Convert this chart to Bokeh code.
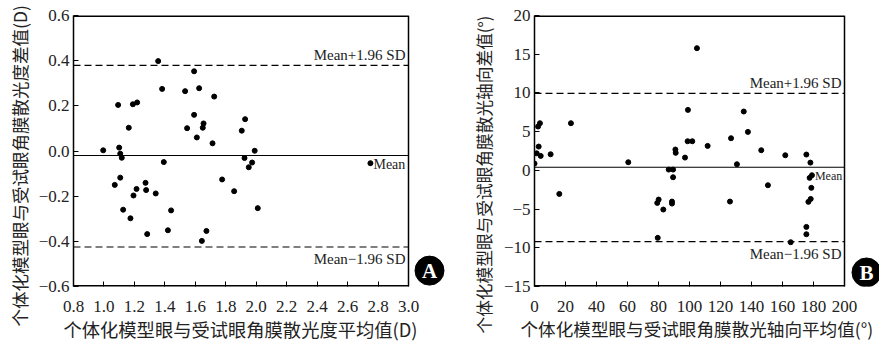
from bokeh.plotting import figure
from bokeh.layouts import row
from bokeh.models import Range1d, FixedTicker, Label, Title
from bokeh.core.properties import value
from bokeh.embed import file_html
from bokeh.resources import INLINE

# ---------------- Panel A data ----------------
a_mean = [0.995, 1.093, 1.100, 1.107, 1.117, 1.107, 1.163, 1.190, 1.218, 1.356,
          1.382, 1.393, 1.533, 1.546, 1.592, 1.592, 1.610, 1.625, 1.649, 1.654,
          1.713, 1.724, 1.776, 1.905, 1.927, 1.923, 1.973, 1.951, 1.990, 2.750,
          1.071, 1.214, 1.194, 1.273, 1.277, 1.340, 1.126, 1.174, 1.284, 1.441,
          1.420, 1.643, 1.673, 1.855, 2.010]
a_diff = [0.003, 0.204, 0.015, -0.012, -0.030, -0.118, 0.103, 0.207, 0.215, 0.398,
          0.275, -0.049, 0.265, 0.101, 0.353, 0.160, 0.060, 0.278, 0.103, 0.122,
          0.034, 0.241, -0.126, 0.090, 0.141, -0.031, -0.051, -0.072, 0.001, -0.054,
          -0.150, -0.168, -0.197, -0.141, -0.173, -0.188, -0.260, -0.298, -0.368, -0.263,
          -0.351, -0.398, -0.354, -0.178, -0.253]
a_mean_line = -0.02
a_upper = 0.379
a_lower = -0.425
a_xlim = (0.8, 3.0)
a_ylim = (-0.6, 0.6)
a_xticks = [0.8, 1.0, 1.2, 1.4, 1.6, 1.8, 2.0, 2.2, 2.4, 2.6, 2.8, 3.0]
a_yticks = [-0.6, -0.4, -0.2, 0.0, 0.2, 0.4, 0.6]
a_mean_pt = (2.75, -0.054)
a_xlabel = "个体化模型眼与受试眼角膜散光度平均值(D)"
a_ylabel = "个体化模型眼与受试眼角膜散光度差值(D)"

# ---------------- Panel B data ----------------
b_mean = [0.0, 1.4, 2.7, 4.0, 2.3, 3.5, 10.4, 23.5, 60.5, 86.6,
          89.4, 90.9, 91.1, 89.4, 97.1, 99.0, 98.8, 101.8, 104.8, 111.7,
          126.8, 130.6, 135.0, 137.7, 146.3, 161.8, 175.4, 178.0,
          16.0, 79.2, 80.1, 83.1, 79.5, 88.7, 88.7, 126.1, 150.6, 165.3,
          175.4, 175.4, 176.7, 178.2, 178.6, 179.0, 177.5]
b_diff = [0.88, 2.2, 3.07, 1.87, 5.66, 6.09, 2.08, 6.09, 1.05, 0.1,
          0.1, 2.69, 2.26, -0.89, 1.65, 7.81, 3.76, 3.76, 15.78, 3.16,
          4.15, 0.79, 7.6, 4.97, 2.6, 1.95, 2.04, 1.0,
          -3.04, -4.2, -3.77, -5.06, -8.72, -4.03, -4.29, -4.03, -1.92, -9.28,
          -7.3, -8.25, -4.07, -3.69, -2.26, -0.63, -0.97]
b_mean_line = 0.4
b_upper = 9.95
b_lower = -9.2
b_xlim = (0, 200)
b_ylim = (-15, 20)
b_xticks = [0, 20, 40, 60, 80, 100, 120, 140, 160, 180, 200]
b_yticks = [-15, -10, -5, 0, 5, 10, 15, 20]
b_mean_pt = (179.0, -0.63)
b_xlabel = "个体化模型眼与受试眼角膜散光轴向平均值(°)"
b_ylabel = "个体化模型眼与受试眼角膜散光轴向差值(°)"

SERIF = "'Liberation Serif'"
CJK = "'Noto Sans CJK SC'"
TXT = "#222222"


def fmt(v, dec):
    return f"{v:.{dec}f}".replace("-", "\u2212")


def panel(width, height, xlim, ylim, frame_l, frame_r, frame_ext, frame_t, frame_b,
          xticks, yticks, xdec, ydec, xlabel, ylabel, xlab_off, xlab_size, ylab_off,
          ylab_size, ylab_standoff, xs, ys, mean_v, up, lo, mean_pt, mean_size, letter,
          circ_px):
    # frame is extended to the right so that the panel letter (a glyph) is not clipped
    scale = (xlim[1] - xlim[0]) / (frame_r - frame_l)
    x_end = xlim[1] + (frame_ext - frame_r) * scale
    p = figure(width=width, height=height, output_backend="svg", toolbar_location=None,
               x_range=Range1d(xlim[0], x_end), y_range=Range1d(*ylim),
               min_border_left=frame_l, min_border_right=width - frame_ext,
               min_border_top=frame_t, min_border_bottom=height - frame_b)
    p.grid.visible = False
    p.outline_line_color = None
    p.background_fill_color = "white"
    p.border_fill_color = "white"
    p.xaxis.ticker = FixedTicker(ticks=xticks)
    p.yaxis.ticker = FixedTicker(ticks=yticks)
    p.xaxis.major_label_overrides = {t: fmt(t, xdec) for t in xticks}
    p.yaxis.major_label_overrides = {t: fmt(t, ydec) for t in yticks}
    for ax in (p.xaxis[0], p.yaxis[0]):
        ax.axis_line_color = "black"
        ax.axis_line_width = 1.5
        ax.major_tick_in = 5
        ax.major_tick_out = 0
        ax.major_tick_line_color = "black"
        ax.minor_tick_line_color = None
        ax.major_label_text_font = SERIF
        ax.major_label_text_font_size = "17px"
        ax.major_label_text_color = TXT
    p.xaxis.axis_line_color = None
    p.xaxis.major_label_standoff = 14
    p.yaxis.major_label_standoff = 4

    # frame box limited to the data area
    fx = [[xlim[0], xlim[1]], [xlim[0], xlim[1]]]
    fy = [[ylim[0], ylim[0]], [ylim[1], ylim[1]]]
    p.multi_line(fx, fy, line_color="black", line_width=3)
    p.line([xlim[1], xlim[1]], [ylim[0], ylim[1]], line_color="black", line_width=1.5)

    # axis titles
    p.add_layout(Title(text=xlabel, align="left", offset=xlab_off, standoff=0,
                       text_font=CJK, text_font_size=xlab_size, text_font_style="normal",
                       text_color=TXT, vertical_align="middle"), "below")
    p.add_layout(Title(text=ylabel, align="left", offset=ylab_off, standoff=ylab_standoff,
                       text_font=CJK, text_font_size=ylab_size, text_font_style="normal",
                       text_color=TXT, vertical_align="middle"), "left")

    # Bland-Altman lines
    p.line([xlim[0], xlim[1]], [mean_v, mean_v], line_color="black", line_width=1.2)
    p.line([xlim[0], xlim[1]], [up, up], line_color="black", line_width=1.2, line_dash="7 4")
    p.line([xlim[0], xlim[1]], [lo, lo], line_color="black", line_width=1.2, line_dash="7 4")
    p.scatter(xs, ys, size=5, color="black")
    p.add_layout(Label(x=xlim[1], y=up, text="Mean+1.96 SD", text_align="right",
                       text_baseline="bottom", x_offset=-3, y_offset=2,
                       text_font=SERIF, text_font_size="15px", text_color=TXT))
    p.add_layout(Label(x=xlim[1], y=lo, text="Mean\u22121.96 SD", text_align="right",
                       text_baseline="top", x_offset=-3, y_offset=-4,
                       text_font=SERIF, text_font_size="15px", text_color=TXT))
    p.add_layout(Label(x=mean_pt[0], y=mean_pt[1], text="Mean", text_align="left",
                       text_baseline="middle", x_offset=3, y_offset=-1,
                       text_font=SERIF, text_font_size=mean_size, text_color=TXT))

    # circled panel letter
    yscale = (ylim[1] - ylim[0]) / (frame_b - frame_t)
    cx = xlim[0] + (circ_px[0] - frame_l) * scale
    cy = ylim[1] - (circ_px[1] - frame_t) * yscale
    p.scatter([cx], [cy], size=29, color="black")
    p.text([cx], [cy], text=[letter], text_align="center", text_baseline="middle",
           text_font=value(SERIF), text_font_style="bold", text_font_size="21px",
           text_color="white")
    return p


p1 = panel(445, 342, a_xlim, a_ylim, 73, 408, 445, 15, 288,
           a_xticks, a_yticks, 1, 1, a_xlabel, a_ylabel, -10, "18.3px", -40, "17.5px", 5,
           a_mean, a_diff, a_mean_line, a_upper, a_lower, a_mean_pt, "14px", "A", (429, 272))
p2 = panel(434, 342, b_xlim, b_ylim, 89, 399, 434, 15, 286,
           b_xticks, b_yticks, 0, 0, b_xlabel, b_ylabel, -14, "17.6px", -47, "16.7px", 8,
           b_mean, b_diff, b_mean_line, b_upper, b_lower, b_mean_pt, "12px", "B", (421, 272))

layout = row(p1, p2)
open("out.html", "w").write(file_html(layout, INLINE))
